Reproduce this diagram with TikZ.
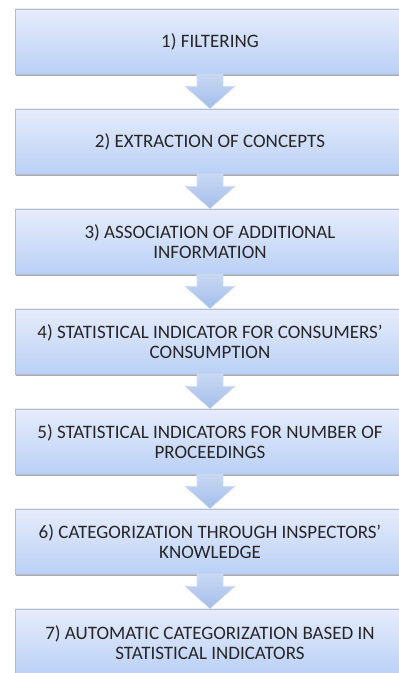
\documentclass[tikz,border=0pt]{standalone}
\usepackage{fontspec}
\setmainfont{Carlito}
\usetikzlibrary{calc,shadows}
\definecolor{boxtop}{HTML}{E6ECFB}
\definecolor{boxbot}{HTML}{BAD0F6}
\definecolor{boxline}{HTML}{B4BCCC}
\definecolor{arrtop}{HTML}{C8D8F3}
\definecolor{arrbot}{HTML}{A3BEEA}
\definecolor{arrline}{HTML}{D4DFF2}
\definecolor{txt}{HTML}{262626}
\tikzset{
  stepbox/.style={draw=boxline, line width=0.6pt, top color=boxtop, bottom color=boxbot,
    minimum width=390pt, minimum height=65pt, align=center, text=txt,
    font=\fontsize{19pt}{20pt}\selectfont, inner sep=0pt,
    drop shadow={shadow xshift=0.5pt, shadow yshift=-2pt, fill=black!55, opacity=0.6}},
  flowarrow/.style={draw=arrline, line width=0.6pt, top color=arrtop, bottom color=arrbot}
}
\newcommand{\flowarr}[2]{%
  \path[flowarrow] ($(#1.south)+(-13pt,0)$) -- ($(#1.south)+(-13pt,-12pt)$) -- ($(#1.south)+(-25pt,-12pt)$)
    -- (#2.north) -- ($(#1.south)+(25pt,-12pt)$) -- ($(#1.south)+(13pt,-12pt)$) -- ($(#1.south)+(13pt,0)$) -- cycle;}
\begin{document}
\begin{tikzpicture}[x=1pt,y=1pt]
\useasboundingbox (0,0) rectangle (399,673);
\fill[white] (0,0) rectangle (399,673);
\node[stepbox] (b1) at (210,631.5) {1) FILTERING};
\node[stepbox] (b2) at (210,531.5) {2) EXTRACTION OF CONCEPTS};
\node[stepbox] (b3) at (210,431.5) {3) ASSOCIATION OF ADDITIONAL\\INFORMATION};
\node[stepbox] (b4) at (210,331.5) {4) STATISTICAL INDICATOR FOR CONSUMERS’\\CONSUMPTION};
\node[stepbox] (b5) at (210,231.5) {5) STATISTICAL INDICATORS FOR NUMBER OF\\PROCEEDINGS};
\node[stepbox] (b6) at (210,131.5) {6) CATEGORIZATION THROUGH INSPECTORS’\\KNOWLEDGE};
\node[stepbox, minimum height=67pt] (b7) at (210,30.5) {7) AUTOMATIC CATEGORIZATION BASED IN\\STATISTICAL INDICATORS};
\flowarr{b1}{b2}
\flowarr{b2}{b3}
\flowarr{b3}{b4}
\flowarr{b4}{b5}
\flowarr{b5}{b6}
\flowarr{b6}{b7}
\end{tikzpicture}
\end{document}
